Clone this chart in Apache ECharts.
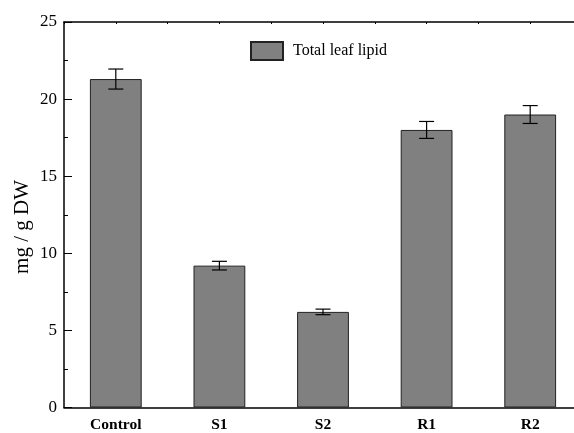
<!DOCTYPE html>
<html>
<head>
<meta charset="utf-8">
<script src="https://cdn.jsdelivr.net/npm/echarts@6/dist/echarts.min.js"></script>
<style>
  html, body { margin: 0; padding: 0; background: #fff; }
  #chart { width: 574px; height: 433px; }
</style>
</head>
<body>
<div id="chart"></div>
<script>
  // values
  const categories = ['Control', 'S1', 'S2', 'R1', 'R2'];
  const lipid = [21.3, 9.2, 6.2, 18.0, 19.0];
  const lipidErr = [0.65, 0.28, 0.18, 0.55, 0.58];

  const font = 'Liberation Serif, Times New Roman, serif';

  const errData = categories.map((c, i) => [i, lipid[i] - lipidErr[i], lipid[i] + lipidErr[i]]);

  const chart = echarts.init(document.getElementById('chart'));
  chart.setOption({
    animation: false,
    grid: { left: 64, top: 22, right: -8, bottom: 25.5, outerBoundsMode: 'none' },
    legend: {
      left: 250, top: 41, padding: 0,
      itemWidth: 32, itemHeight: 18, itemGap: 10,
      textStyle: { fontFamily: font, fontSize: 16, color: '#000', padding: [0, 0, 0, 5] },
      data: [{ name: 'Total leaf lipid', icon: 'rect' }]
    },
    // y axis title, placed a bit below the axis middle as in the original
    graphic: [{
      type: 'text', left: 12, top: 180,
      rotation: Math.PI / 2,
      style: { text: 'mg / g DW', font: '21px ' + font, fill: '#000' }
    }],
    xAxis: [
      {
        type: 'category',
        data: categories,
        axisLine: { lineStyle: { color: '#000', width: 1.5 } },
        axisTick: { inside: true, length: 4, lineStyle: { color: '#000' } },
        axisLabel: { fontFamily: font, fontSize: 15.5, fontWeight: 'bold', color: '#000', margin: 9 }
      },
      {
        type: 'value', position: 'top', min: 0, max: 5, interval: 0.5,
        axisLine: { show: true, lineStyle: { color: '#000', width: 1.5 } },
        axisTick: { inside: true, length: 2, lineStyle: { color: '#000' } },
        axisLabel: { show: false },
        splitLine: { show: false }
      }
    ],
    yAxis: {
      type: 'value', min: 0, max: 25, interval: 5,
      axisLine: { show: true, lineStyle: { color: '#000', width: 1.5 } },
      axisTick: { inside: true, length: 8, lineStyle: { color: '#000' } },
      minorTick: { show: true, splitNumber: 2, length: 4, lineStyle: { color: '#000' } },
      axisLabel: { fontFamily: font, fontSize: 17, color: '#000', margin: 7 },
      splitLine: { show: false }
    },
    series: [
      {
        name: 'Total leaf lipid',
        type: 'bar',
        data: lipid,
        barWidth: '50%',
        itemStyle: { color: '#808080', borderColor: '#222', borderWidth: 1 }
      },
      {
        type: 'custom',
        data: errData,
        z: 10,
        renderItem: function (params, api) {
          const lo = api.coord([api.value(0), api.value(1)]);
          const hi = api.coord([api.value(0), api.value(2)]);
          const w = 7.5;
          const style = { stroke: '#000', lineWidth: 1.2 };
          return {
            type: 'group',
            children: [
              { type: 'line', shape: { x1: hi[0], y1: hi[1], x2: lo[0], y2: lo[1] }, style: style },
              { type: 'line', shape: { x1: hi[0] - w, y1: hi[1], x2: hi[0] + w, y2: hi[1] }, style: style },
              { type: 'line', shape: { x1: lo[0] - w, y1: lo[1], x2: lo[0] + w, y2: lo[1] }, style: style }
            ]
          };
        }
      }
    ]
  });
</script>
</body>
</html>
